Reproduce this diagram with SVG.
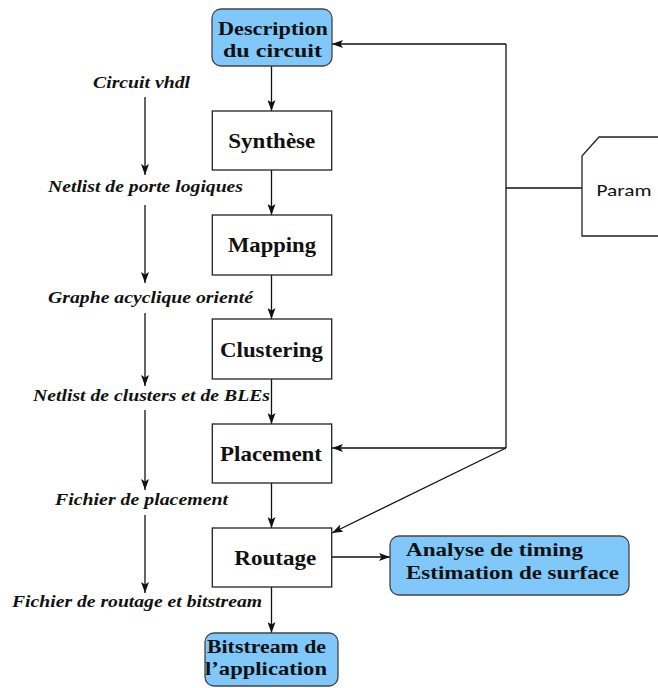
<svg xmlns="http://www.w3.org/2000/svg" width="658" height="688" viewBox="0 0 658 688">
<style>
.box{fill:#fff;stroke:#222;stroke-width:1.3}
.blue{fill:#80c8fa;stroke:#444;stroke-width:1.3}
.lbl{font-family:"Liberation Serif","Times New Roman",serif;font-weight:bold;font-size:22px;fill:#111}
.two{font-size:19.5px}
.it{font-family:"Liberation Serif","Times New Roman",serif;font-weight:bold;font-style:italic;font-size:17px;fill:#111}
.ln{stroke:#111;stroke-width:1.3;fill:none}
.arr{stroke:#111;stroke-width:1.3;fill:none;marker-end:url(#ah)}
</style>
<defs>
<marker id="ah" viewBox="0 0 11 8" refX="11" refY="4" markerWidth="11" markerHeight="8" markerUnits="userSpaceOnUse" orient="auto">
<path d="M0,0 L11,4 L0,8 L2.5,4 Z" fill="#111"/>
</marker>
</defs>
<rect width="658" height="688" fill="#fff"/>
<g id="connectors">
<line class="arr" x1="271.5" y1="66" x2="271.5" y2="111"/>
<line class="arr" x1="271.5" y1="170" x2="271.5" y2="215"/>
<line class="arr" x1="271.5" y1="275" x2="271.5" y2="319"/>
<line class="arr" x1="271.5" y1="379" x2="271.5" y2="424"/>
<line class="arr" x1="271.5" y1="483" x2="271.5" y2="528"/>
<line class="arr" x1="271.5" y1="587" x2="271.5" y2="633"/>
<line class="arr" x1="331" y1="557" x2="390" y2="557"/>
<line class="ln" x1="582" y1="188" x2="506" y2="188"/>
<line class="ln" x1="506" y1="44" x2="506" y2="448"/>
<line class="arr" x1="506" y1="44" x2="332" y2="44"/>
<line class="arr" x1="506" y1="448" x2="332" y2="448"/>
<line class="arr" x1="506" y1="448" x2="332" y2="533"/>
<line class="arr" x1="145" y1="97" x2="145" y2="175"/>
<line class="arr" x1="145" y1="205" x2="145" y2="283"/>
<line class="arr" x1="145" y1="313" x2="145" y2="386"/>
<line class="arr" x1="145" y1="410" x2="145" y2="490"/>
<line class="arr" x1="145" y1="515" x2="145" y2="593"/>
</g>
<g id="description">
<rect class="blue" x="212" y="9" width="120" height="57" rx="9"/>
<text class="lbl two" x="218" y="35" textLength="110" lengthAdjust="spacingAndGlyphs">Description</text>
<text class="lbl two" x="223" y="57" textLength="99" lengthAdjust="spacingAndGlyphs">du circuit</text>
</g>
<g id="synthese">
<rect class="box" x="212.3" y="111" width="119.4" height="59"/>
<text class="lbl" x="228.3" y="147.5" textLength="87" lengthAdjust="spacingAndGlyphs">Synthèse</text>
</g>
<g id="mapping">
<rect class="box" x="212.3" y="215" width="119.4" height="60"/>
<text class="lbl" x="228" y="251.5" textLength="88" lengthAdjust="spacingAndGlyphs">Mapping</text>
</g>
<g id="clustering">
<rect class="box" x="212.3" y="319" width="119.4" height="60"/>
<text class="lbl" x="220" y="356.5" textLength="103" lengthAdjust="spacingAndGlyphs">Clustering</text>
</g>
<g id="placement">
<rect class="box" x="212.3" y="424" width="119.4" height="59"/>
<text class="lbl" x="220" y="460.5" textLength="102" lengthAdjust="spacingAndGlyphs">Placement</text>
</g>
<g id="routage">
<rect class="box" x="212.3" y="528" width="119.4" height="59"/>
<text class="lbl" x="234.3" y="564.5" textLength="82" lengthAdjust="spacingAndGlyphs">Routage</text>
</g>
<g id="bitstream">
<rect class="blue" x="205" y="633" width="133" height="53" rx="9"/>
<text class="lbl two" x="207" y="653" textLength="119" lengthAdjust="spacingAndGlyphs">Bitstream de</text>
<text class="lbl two" x="205" y="675" textLength="122" lengthAdjust="spacingAndGlyphs">l’application</text>
</g>
<g id="analyse">
<rect class="blue" x="390" y="536" width="239" height="59" rx="9"/>
<text class="lbl two" x="406" y="556" textLength="177" lengthAdjust="spacingAndGlyphs">Analyse de timing</text>
<text class="lbl two" x="406" y="579" textLength="213" lengthAdjust="spacingAndGlyphs">Estimation de surface</text>
</g>
<g id="param">
<path d="M658,137 L599,137 L582,156 L582,236 L658,236" fill="#fff" stroke="#222" stroke-width="1.3"/>
<text x="596.5" y="196" font-family="Carlito,'Open Sans','Liberation Sans',sans-serif" font-size="17" fill="#111" textLength="55" lengthAdjust="spacingAndGlyphs">Param</text>
</g>
<g id="labels">
<text class="it" x="93" y="88" textLength="97" lengthAdjust="spacingAndGlyphs">Circuit vhdl</text>
<text class="it" x="48" y="192" textLength="195" lengthAdjust="spacingAndGlyphs">Netlist de porte logiques</text>
<text class="it" x="48" y="303" textLength="205" lengthAdjust="spacingAndGlyphs">Graphe acyclique orienté</text>
<text class="it" x="33" y="401" textLength="237" lengthAdjust="spacingAndGlyphs">Netlist de clusters et de BLEs</text>
<text class="it" x="55" y="505" textLength="173" lengthAdjust="spacingAndGlyphs">Fichier de placement</text>
<text class="it" x="12" y="607" textLength="250" lengthAdjust="spacingAndGlyphs">Fichier de routage et bitstream</text>
</g>
</svg>
